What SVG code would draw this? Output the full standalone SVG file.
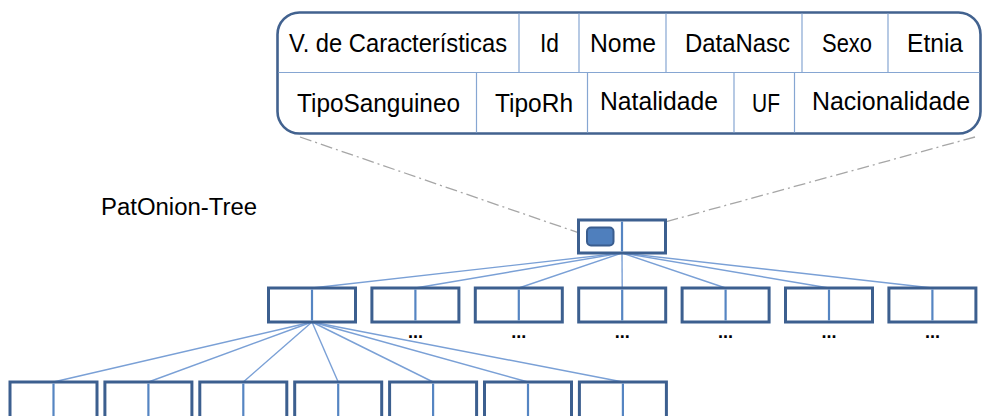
<svg xmlns="http://www.w3.org/2000/svg" width="983" height="416" viewBox="0 0 983 416">
<style>
.t{font-family:"Liberation Sans",Arial,sans-serif;font-size:25px;fill:#000;}
.lbl{font-family:"Liberation Sans",Arial,sans-serif;font-size:23px;fill:#000;}
.dots{font-family:"Liberation Sans",Arial,sans-serif;font-size:18px;font-weight:bold;fill:#000;text-anchor:middle;}
.box{fill:#fff;stroke:#3c5f8f;stroke-width:3;}
.div{stroke:#5585c2;stroke-width:2.2;}
.con{stroke:#7aa0d6;stroke-width:1.4;fill:none;}
.cell{stroke:#86a6d2;stroke-width:1.2;}
.dash{stroke:#a6a6a6;stroke-width:1.3;stroke-dasharray:12 4 2 4;fill:none;}
</style>
<rect width="983" height="416" fill="#fff"/>
<g id="connectors">
<line class="dash" x1="300" y1="137" x2="588" y2="236"/>
<line class="dash" x1="975" y1="137" x2="614" y2="236"/>
<line class="con" x1="622" y1="253" x2="312" y2="288"/>
<line class="con" x1="622" y1="253" x2="415.4" y2="288"/>
<line class="con" x1="622" y1="253" x2="518.8" y2="288"/>
<line class="con" x1="622" y1="253" x2="622.2" y2="288"/>
<line class="con" x1="622" y1="253" x2="725.6" y2="288"/>
<line class="con" x1="622" y1="253" x2="829" y2="288"/>
<line class="con" x1="622" y1="253" x2="932.4" y2="288"/>
<line class="con" x1="312" y1="322" x2="53.5" y2="382"/>
<line class="con" x1="312" y1="322" x2="148.4" y2="382"/>
<line class="con" x1="312" y1="322" x2="243.3" y2="382"/>
<line class="con" x1="312" y1="322" x2="338.2" y2="382"/>
<line class="con" x1="312" y1="322" x2="433.1" y2="382"/>
<line class="con" x1="312" y1="322" x2="528" y2="382"/>
<line class="con" x1="312" y1="322" x2="622.9" y2="382"/>
</g>
<g id="table">
<rect x="277.5" y="12.5" width="703" height="121" rx="22" fill="#fff" stroke="#42628f" stroke-width="2.6"/>
<line class="cell" x1="278.5" y1="72.5" x2="979.5" y2="72.5"/>
<line class="cell" x1="519" y1="13.5" x2="519" y2="72.5"/>
<line class="cell" x1="579" y1="13.5" x2="579" y2="72.5"/>
<line class="cell" x1="666" y1="13.5" x2="666" y2="72.5"/>
<line class="cell" x1="802" y1="13.5" x2="802" y2="72.5"/>
<line class="cell" x1="888" y1="13.5" x2="888" y2="72.5"/>
<line class="cell" x1="476.5" y1="72.5" x2="476.5" y2="132.5"/>
<line class="cell" x1="587.5" y1="72.5" x2="587.5" y2="132.5"/>
<line class="cell" x1="734" y1="72.5" x2="734" y2="132.5"/>
<line class="cell" x1="794.5" y1="72.5" x2="794.5" y2="132.5"/>
<text class="t" x="289" y="52" textLength="218" lengthAdjust="spacingAndGlyphs">V. de Características</text>
<text class="t" x="540" y="52" textLength="19" lengthAdjust="spacingAndGlyphs">Id</text>
<text class="t" x="590" y="52" textLength="66" lengthAdjust="spacingAndGlyphs">Nome</text>
<text class="t" x="685" y="52" textLength="105" lengthAdjust="spacingAndGlyphs">DataNasc</text>
<text class="t" x="822" y="52" textLength="50" lengthAdjust="spacingAndGlyphs">Sexo</text>
<text class="t" x="907" y="52" textLength="56" lengthAdjust="spacingAndGlyphs">Etnia</text>
<text class="t" x="297" y="112" textLength="163" lengthAdjust="spacingAndGlyphs">TipoSanguineo</text>
<text class="t" x="495" y="112" textLength="78" lengthAdjust="spacingAndGlyphs">TipoRh</text>
<text class="t" x="600" y="110" textLength="118" lengthAdjust="spacingAndGlyphs">Natalidade</text>
<text class="t" x="752" y="112" textLength="28" lengthAdjust="spacingAndGlyphs">UF</text>
<text class="t" x="812" y="110" textLength="158" lengthAdjust="spacingAndGlyphs">Nacionalidade</text>
</g>
<g id="title">
<text class="lbl" x="101" y="215" textLength="156" lengthAdjust="spacingAndGlyphs">PatOnion-Tree</text>
</g>
<g id="root">
<rect class="box" x="578.5" y="220" width="87" height="33"/>
<line class="div" x1="622" y1="221.5" x2="622" y2="251.5"/>
<rect x="587" y="227.5" width="26.5" height="18" rx="4" fill="#4f7fbd" stroke="#3a5d8e" stroke-width="2"/>
</g>
<g id="level2">
<g id="n2-1"><rect class="box" x="268.5" y="288" width="87" height="34"/><line class="div" x1="312" y1="289.5" x2="312" y2="320.5"/></g>
<g id="n2-2"><rect class="box" x="371.9" y="288" width="87" height="34"/><line class="div" x1="415.4" y1="289.5" x2="415.4" y2="320.5"/><text class="dots" x="415.4" y="338">...</text></g>
<g id="n2-3"><rect class="box" x="475.3" y="288" width="87" height="34"/><line class="div" x1="518.8" y1="289.5" x2="518.8" y2="320.5"/><text class="dots" x="518.8" y="338">...</text></g>
<g id="n2-4"><rect class="box" x="578.7" y="288" width="87" height="34"/><line class="div" x1="622.2" y1="289.5" x2="622.2" y2="320.5"/><text class="dots" x="622.2" y="338">...</text></g>
<g id="n2-5"><rect class="box" x="682.1" y="288" width="87" height="34"/><line class="div" x1="725.6" y1="289.5" x2="725.6" y2="320.5"/><text class="dots" x="725.6" y="338">...</text></g>
<g id="n2-6"><rect class="box" x="785.5" y="288" width="87" height="34"/><line class="div" x1="829" y1="289.5" x2="829" y2="320.5"/><text class="dots" x="829" y="338">...</text></g>
<g id="n2-7"><rect class="box" x="888.9" y="288" width="87" height="34"/><line class="div" x1="932.4" y1="289.5" x2="932.4" y2="320.5"/><text class="dots" x="932.4" y="338">...</text></g>
</g>
<g id="level3">
<g id="n3-1"><rect class="box" x="10" y="382" width="87" height="40"/><line class="div" x1="53.5" y1="383.5" x2="53.5" y2="420"/></g>
<g id="n3-2"><rect class="box" x="104.9" y="382" width="87" height="40"/><line class="div" x1="148.4" y1="383.5" x2="148.4" y2="420"/></g>
<g id="n3-3"><rect class="box" x="199.8" y="382" width="87" height="40"/><line class="div" x1="243.3" y1="383.5" x2="243.3" y2="420"/></g>
<g id="n3-4"><rect class="box" x="294.7" y="382" width="87" height="40"/><line class="div" x1="338.2" y1="383.5" x2="338.2" y2="420"/></g>
<g id="n3-5"><rect class="box" x="389.6" y="382" width="87" height="40"/><line class="div" x1="433.1" y1="383.5" x2="433.1" y2="420"/></g>
<g id="n3-6"><rect class="box" x="484.5" y="382" width="87" height="40"/><line class="div" x1="528" y1="383.5" x2="528" y2="420"/></g>
<g id="n3-7"><rect class="box" x="579.4" y="382" width="87" height="40"/><line class="div" x1="622.9" y1="383.5" x2="622.9" y2="420"/></g>
</g>
</svg>
